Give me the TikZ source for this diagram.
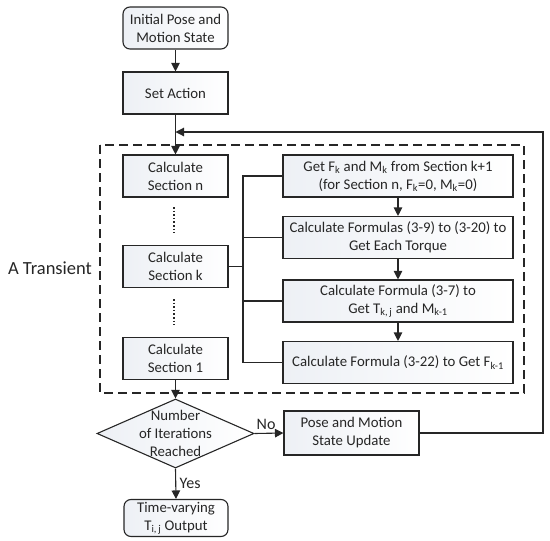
\documentclass[tikz,border=0pt]{standalone}
\usepackage{fontspec}
\setmainfont{Carlito}
\usetikzlibrary{shapes.geometric,arrows.meta}
\definecolor{ln}{HTML}{262626}
\definecolor{boxl}{HTML}{EDF0F5}
\newcommand{\subtx}[1]{\textsubscript{#1}}
\tikzset{
  base/.style={draw=ln, line width=1.1pt, align=center, inner sep=1pt,
    font=\fontsize{14.8}{18}\selectfont, text=black!85, left color=boxl, right color=white},
  procbox/.style={base, minimum width=105pt, minimum height=42pt},
  widebox/.style={base, minimum width=230pt, minimum height=42pt},
  termbox/.style={base, rounded corners=7pt},
  conn/.style={draw=ln, line width=1.1pt},
  arr/.style={conn, -{Triangle[length=8.5pt,width=8.5pt]}},
}
\begin{document}
\begin{tikzpicture}[x=1pt,y=-1pt]
\useasboundingbox (0,0) rectangle (550,541);
% dashed region
\draw[draw=ln, line width=1.2pt, dash pattern=on 9pt off 5pt] (100,145) rectangle (524,393);
\node[font=\fontsize{18.5}{20}\selectfont, text=black!85] (tr) at (50,268) {A Transient};
% nodes
\node[termbox, minimum width=105pt, minimum height=42pt] (init) at (175.5,28) {Initial Pose and\\Motion State};
\node[procbox] (set) at (175.5,93) {Set Action};
\node[procbox] (secn) at (175.5,176) {Calculate\\Section n};
\node[procbox] (seck) at (175.5,266.5) {Calculate\\Section k};
\node[procbox] (sec1) at (175.5,358.5) {Calculate\\Section 1};
\node[widebox] (b1) at (398,176) {Get F\subtx{k} and M\subtx{k} from Section k+1\\(for Section n, F\subtx{k}=0, M\subtx{k}=0)};
\node[widebox] (b2) at (398,237.5) {Calculate Formulas (3-9) to (3-20) to\\Get Each Torque};
\node[widebox] (b3) at (398,301) {Calculate Formula (3-7) to\\Get T\subtx{k,\,j} and M\subtx{k-1}};
\node[widebox] (b4) at (398,362.5) {Calculate Formula (3-22) to Get F\subtx{k-1}};
\node[diamond, draw=ln, line width=1.1pt, minimum width=157pt, minimum height=69pt, inner sep=0pt, left color=boxl, right color=white] (dia) at (175.5,433.5) {};
\node[align=center, font=\fontsize{14.8}{18}\selectfont, text=black!85] (diat) at (dia) {Number\\of Iterations\\Reached};
\node[base, minimum width=135pt, minimum height=44pt] (upd) at (351.5,433) {Pose and Motion\\State Update};
\node[termbox, minimum width=104pt, minimum height=37pt] (out) at (176,518) {Time-varying\\T\subtx{i,\,j} Output};
% dotted ellipses
\coordinate (d1a) at (174,207); \coordinate (d1b) at (174,233);
\coordinate (d2a) at (174,299); \coordinate (d2b) at (174,325);
\draw[ln, line width=1.6pt, dotted] (d1a) -- (d1b);
\draw[ln, line width=1.6pt, dotted] (d2a) -- (d2b);
% connectors
\draw[arr] (init) -- (set);
\coordinate (join) at (175.5,132);
\draw[arr] (set) -- (secn);
\coordinate (rtop) at (543,132);
\coordinate (rbot) at (543,433);
\draw[arr] (upd.east) -- (rbot) -- (rtop) -- (join);
\coordinate (bt) at (243,176);
\coordinate (bb) at (243,362.5);
\draw[conn] (b1.west) -- (bt) -- (bb) -- (b4.west);
\draw[conn] (seck.east) -- (243,266.5);
\draw[conn] (243,237.5) -- (b2.west);
\draw[conn] (243,301) -- (b3.west);
\draw[arr] (b1) -- (b2);
\draw[arr] (b2) -- (b3);
\draw[arr] (b3) -- (b4);
\draw[arr] (sec1) -- (dia);
\draw[arr] (dia.east) -- node[above, font=\fontsize{16}{18}\selectfont, text=black!85, pos=0.4] (no) {No} (upd.west);
\draw[arr] (dia.south) -- node[right, font=\fontsize{16}{18}\selectfont, text=black!85] (yes) {Yes} (out.north);
\end{tikzpicture}
\end{document}
